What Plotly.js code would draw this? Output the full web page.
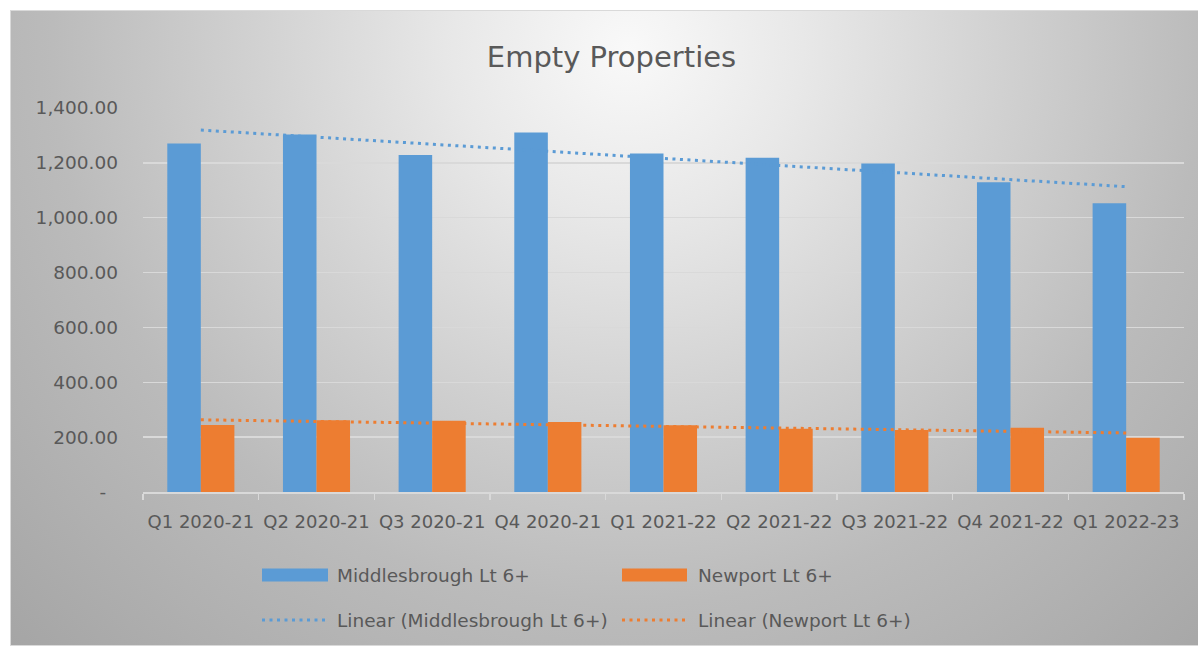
<!DOCTYPE html>
<html>
<head>
<meta charset="utf-8">
<script src="https://cdn.plot.ly/plotly-3.0.1.min.js"></script>
<style>
  html, body { margin: 0; padding: 0; background: #ffffff; }
  #frame {
    position: absolute; left: 10px; top: 10px; width: 1187px; height: 634px;
    border: 1px solid #d9d9d9;
    background: radial-gradient(ellipse farthest-corner at 52% 6%, #f9f9f9 0%, #e8e8e8 20%, #d2d2d2 42%, #bbbbbb 66%, #a5a5a5 100%);
  }
  #chart { position: absolute; left: 0; top: 0; width: 1198px; height: 649px; }
</style>
</head>
<body>
<div id="frame"></div>
<div id="chart"></div>
<script>
const categories = ['Q1 2020-21', 'Q2 2020-21', 'Q3 2020-21', 'Q4 2020-21', 'Q1 2021-22', 'Q2 2021-22', 'Q3 2021-22', 'Q4 2021-22', 'Q1 2022-23'];
const middlesbrough = [1271, 1303, 1229, 1311, 1234, 1219, 1198, 1129, 1053];
const newport = [244, 262, 260, 255, 243, 231, 226, 234, 198];
const seriesNames = ['Middlesbrough Lt 6+', 'Newport Lt 6+'];
const yTicks = [0, 200, 400, 600, 800, 1000, 1200, 1400];

const BLUE = '#5B9BD5', ORANGE = '#ED7D31', TEXT = '#595959';
const FONT = 'DejaVu Sans, sans-serif';

// least-squares linear trend (as Excel's "Linear" trendline)
function linearTrend(vals) {
  const n = vals.length;
  let sx = 0, sy = 0, sxx = 0, sxy = 0;
  vals.forEach((v, i) => { const x = i + 1; sx += x; sy += v; sxx += x * x; sxy += x * v; });
  const b = (n * sxy - sx * sy) / (n * sxx - sx * sx);
  const a = (sy - b * sx) / n;
  return vals.map((v, i) => a + b * (i + 1));
}

const yTickText = yTicks.map(v => v === 0 ? '-\u00a0\u00a0' :
  v.toLocaleString('en-US', {minimumFractionDigits: 2, maximumFractionDigits: 2}));

const traces = [
  {type: 'bar', name: seriesNames[0], x: categories, y: middlesbrough, marker: {color: BLUE}},
  {type: 'bar', name: seriesNames[1], x: categories, y: newport, marker: {color: ORANGE}},
  {type: 'scatter', mode: 'lines', name: 'Linear (' + seriesNames[0] + ')', x: categories, y: linearTrend(middlesbrough),
   line: {color: BLUE, width: 3, dash: '3px,4.5px'}},
  {type: 'scatter', mode: 'lines', name: 'Linear (' + seriesNames[1] + ')', x: categories, y: linearTrend(newport),
   line: {color: ORANGE, width: 3, dash: '3px,4.5px'}}
];

// plot area in page pixels
const L = 143, R = 1184, T = 108, B = 492;
const px = x => (x - L) / (R - L);
const py = y => (B - y) / (B - T);

const legendItems = [
  {kind: 'bar', color: BLUE, x0: 262, x1: 328, y: 575, tx: 335, text: seriesNames[0]},
  {kind: 'bar', color: ORANGE, x0: 622, x1: 687, y: 575, tx: 696, text: seriesNames[1]},
  {kind: 'line', color: BLUE, x0: 262, x1: 326, y: 620, tx: 335, text: 'Linear (' + seriesNames[0] + ')'},
  {kind: 'line', color: ORANGE, x0: 622, x1: 685, y: 620, tx: 696, text: 'Linear (' + seriesNames[1] + ')'}
];
const shapes = [], annotations = [];
legendItems.forEach(it => {
  if (it.kind === 'bar') {
    shapes.push({type: 'rect', xref: 'paper', yref: 'paper', x0: px(it.x0), x1: px(it.x1), y0: py(it.y - 6.5), y1: py(it.y + 6.5),
      fillcolor: it.color, line: {width: 0}});
  } else {
    shapes.push({type: 'line', xref: 'paper', yref: 'paper', x0: px(it.x0), x1: px(it.x1), y0: py(it.y), y1: py(it.y),
      line: {color: it.color, width: 3, dash: '3px,4.5px'}});
  }
  annotations.push({xref: 'paper', yref: 'paper', x: px(it.tx), y: py(it.y), xanchor: 'left', yanchor: 'middle',
    text: it.text, showarrow: false, font: {family: FONT, size: 18.5, color: TEXT}});
});

const layout = {
  width: 1198, height: 649,
  margin: {l: L, r: 1198 - R, t: T, b: 649 - B, pad: 0},
  paper_bgcolor: 'rgba(0,0,0,0)', plot_bgcolor: 'rgba(0,0,0,0)',
  title: {text: 'Empty Properties', font: {family: FONT, size: 29, color: TEXT},
    x: 611.5 / 1198, xanchor: 'center', y: 1 - 57 / 649, yanchor: 'middle'},
  showlegend: false,
  barmode: 'group', bargap: 0.42, bargroupgap: 0,
  xaxis: {type: 'category', tickson: 'boundaries', ticks: 'outside', ticklen: 6, tickwidth: 1.5, tickcolor: '#d9d9d9',
    showline: true, linecolor: '#d9d9d9', linewidth: 1.5, showgrid: false, zeroline: false, tickangle: 0,
    tickfont: {family: FONT, size: 18, color: TEXT}, ticklabelstandoff: 13, fixedrange: true},
  yaxis: {range: [0, 1400], tickmode: 'array', tickvals: yTicks, ticktext: yTickText, ticks: '',
    showgrid: true, gridcolor: '#d9d9d9', gridwidth: 1.5, zeroline: false, showline: false,
    tickfont: {family: FONT, size: 18.5, color: TEXT}, ticklabelstandoff: 24, fixedrange: true},
  shapes: shapes, annotations: annotations
};

Plotly.newPlot('chart', traces, layout, {displayModeBar: false, staticPlot: true});
</script>
</body>
</html>
